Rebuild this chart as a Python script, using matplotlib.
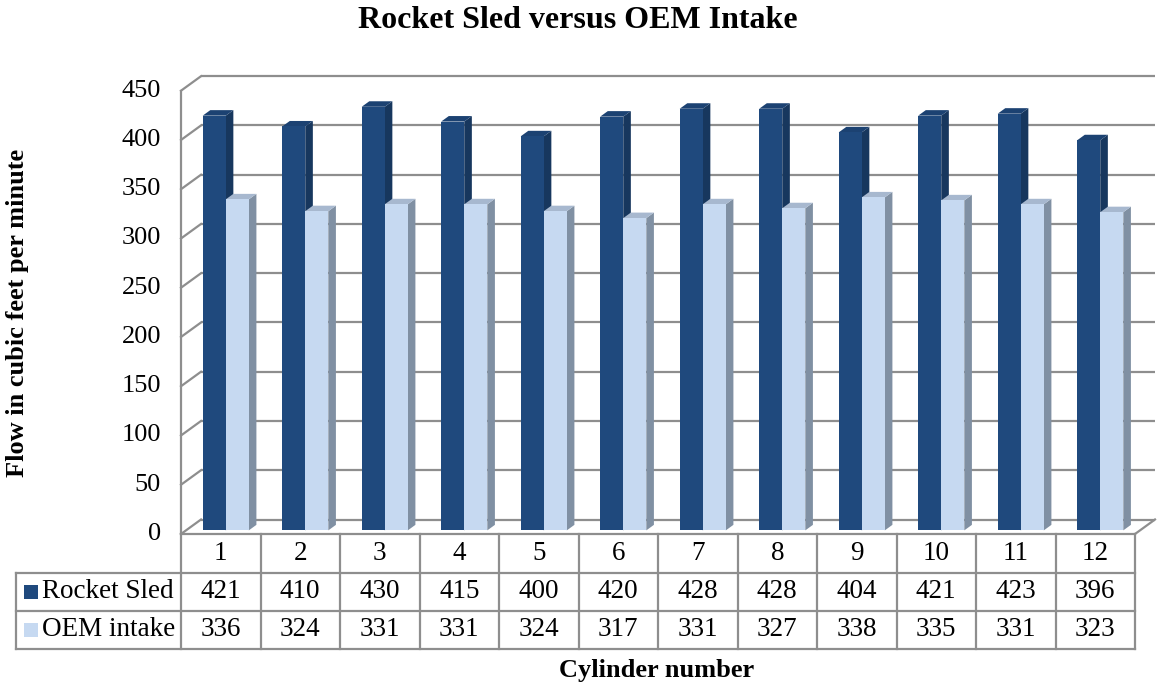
import matplotlib
matplotlib.use("Agg")
import matplotlib.pyplot as plt
from matplotlib.patches import Polygon, Rectangle

# ---- data -------------------------------------------------------------
categories = [str(i) for i in range(1, 13)]
series_names = ["Rocket Sled", "OEM intake"]
rocket_sled = [421, 410, 430, 415, 400, 420, 428, 428, 404, 421, 423, 396]
oem_intake = [336, 324, 331, 331, 324, 317, 331, 327, 338, 335, 331, 323]
y_ticks = list(range(0, 451, 50))

title = "Rocket Sled versus OEM Intake"
y_title = "Flow in cubic feet per minute"
x_title = "Cylinder number"

# ---- styling ----------------------------------------------------------
plt.rcParams["font.family"] = ["Liberation Serif", "DejaVu Serif"]
front_cols = ["#1F497D", "#C6D9F1"]
side_cols = ["#17375E", "#8090A3"]
top_cols = ["#1C4272", "#A7B8CF"]
grid_col = "#8E8E8E"
line_w = 1.6
fs_tbl = 19.5
fs_tick = 19

W, H = 1157, 684
fig = plt.figure(figsize=(W / 100, H / 100), dpi=100)
fig.patch.set_facecolor("white")

# front plane of the plot area, in pixels
left_px, right_px = 181, 1135
base_px, top_px = 534, 90.7
ax = fig.add_axes([left_px / W, (H - base_px) / H,
                   (right_px - left_px) / W, (base_px - top_px) / H])
n = len(categories)
ax.set_xlim(0.5, n + 0.5)
ax.set_ylim(0, 450)
ax.axis("off")

px_per_cat = (right_px - left_px) / n
px_per_val = (base_px - top_px) / 450.0

# depth of the 3-D box in data units
DX = 20 / px_per_cat
DY = 14.5 / px_per_val


def val_below(py):
    """data y for a pixel row below the front edge"""
    return (base_px - py) / px_per_val


def cat_left(px):
    return 0.5 + (px - left_px) / px_per_cat


# ---- walls & gridlines -------------------------------------------------
for v in y_ticks:
    ax.plot([0.5 + DX, n + 0.5 + DX], [v + DY, v + DY], color=grid_col,
            lw=line_w, clip_on=False, zorder=1, solid_capstyle="butt")
    ax.plot([0.5, 0.5 + DX], [v, v + DY], color=grid_col, lw=line_w,
            clip_on=False, zorder=1)
ax.plot([0.5, 0.5], [0, 450], color=grid_col, lw=line_w, clip_on=False, zorder=1)
ax.plot([n + 0.5, n + 0.5 + DX], [0, DY], color=grid_col, lw=line_w,
        clip_on=False, zorder=1)

for v in y_ticks:
    ax.text(cat_left(161), v, str(v), ha="right", va="center", fontsize=fs_tick)

# ---- 3-D columns -------------------------------------------------------
bw = 0.29          # column width (category units)
d0 = 0.25          # depth position of column front faces
t = 0.38           # column depth
x0 = d0 * DX
y0 = d0 * DY

for s, vals in enumerate([rocket_sled, oem_intake]):
    xs = [i + 1 - bw + s * bw + x0 for i in range(n)]
    bars = ax.bar(xs, vals, width=bw, bottom=y0, align="edge",
                  color=front_cols[s], linewidth=0, clip_on=False)
    for i, (b, v) in enumerate(zip(bars, vals)):
        z = 10 + i * 4 + s * 2
        b.set_zorder(z + 1)
        lx = b.get_x()
        rx = lx + bw
        top = y0 + v
        side = Polygon([(rx, y0), (rx + t * DX, y0 + t * DY),
                        (rx + t * DX, top + t * DY), (rx, top)],
                       closed=True, facecolor=side_cols[s], lw=0,
                       clip_on=False, zorder=z)
        cap = Polygon([(lx, top), (rx, top), (rx + t * DX, top + t * DY),
                       (lx + t * DX, top + t * DY)],
                      closed=True, facecolor=top_cols[s], lw=0,
                      clip_on=False, zorder=z)
        ax.add_patch(side)
        ax.add_patch(cap)

# ---- data table --------------------------------------------------------
row_px = [534, 573, 611, 649]
rows = [val_below(p) for p in row_px]
leg_left = cat_left(16)
tbl_kw = dict(color=grid_col, lw=line_w, clip_on=False, zorder=60)

ax.plot([0.5, n + 0.5], [rows[0], rows[0]], **tbl_kw)
for r in rows[1:]:
    ax.plot([leg_left, n + 0.5], [r, r], **tbl_kw)
for k in range(n + 1):
    ax.plot([0.5 + k, 0.5 + k], [rows[0], rows[3]], **tbl_kw)
ax.plot([leg_left, leg_left], [rows[1], rows[3]], **tbl_kw)

for i, c in enumerate(categories):
    ax.text(i + 1, (rows[0] + rows[1]) / 2, c, ha="center", va="center",
            fontsize=fs_tbl, zorder=61, clip_on=False)

for s, vals in enumerate([rocket_sled, oem_intake]):
    ymid = (rows[s + 1] + rows[s + 2]) / 2
    for i, v in enumerate(vals):
        ax.text(i + 1, ymid, str(v), ha="center", va="center",
                fontsize=fs_tbl, zorder=61, clip_on=False)
    sq = 14
    ax.add_patch(Rectangle((cat_left(24), ymid - (sq / 2) / px_per_val),
                           sq / px_per_cat, sq / px_per_val,
                           facecolor=front_cols[s], lw=0, clip_on=False,
                           zorder=61))
    ax.text(cat_left(42), ymid, series_names[s], ha="left", va="center",
            fontsize=fs_tbl, zorder=61, clip_on=False)

# ---- titles ------------------------------------------------------------
fig.text(578 / W, 1 - 20 / H, title, ha="center", va="center",
         fontsize=23, fontweight="bold")
fig.text(18 / W, 1 - 313 / H, y_title, ha="center", va="center",
         rotation=90, fontsize=19, fontweight="bold")
fig.text(657 / W, 1 - 670 / H, x_title, ha="center", va="center",
         fontsize=19, fontweight="bold")

fig.savefig("out.png", dpi=100, facecolor="white")
